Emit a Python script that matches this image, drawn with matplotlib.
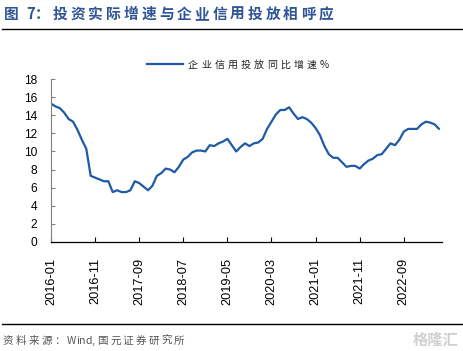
import numpy as np
import matplotlib
matplotlib.use("Agg")
import matplotlib.pyplot as plt
from matplotlib.lines import Line2D

plt.rcParams['font.family'] = ['Noto Sans CJK SC', 'DejaVu Sans']

# 企业信用投放同比增速 (%), 2016-01 .. 2023-05 monthly
valores = [15.3, 15.0, 14.8, 14.3, 13.6, 13.3, 12.4, 11.3, 10.3, 7.3,
           7.1, 6.9, 6.7, 6.7, 5.5, 5.7, 5.5, 5.5, 5.7, 6.7,
           6.5, 6.1, 5.7, 6.2, 7.3, 7.6, 8.1, 8.0, 7.7, 8.3,
           9.1, 9.4, 9.9, 10.1, 10.1, 10.0, 10.7, 10.6, 10.9, 11.1,
           11.4, 10.7, 10.0, 10.5, 10.9, 10.6, 10.9, 11.0, 11.4, 12.5,
           13.3, 14.1, 14.6, 14.6, 14.9, 14.2, 13.6, 13.8, 13.6, 13.2,
           12.6, 11.8, 10.6, 9.7, 9.3, 9.3, 8.8, 8.3, 8.4, 8.4,
           8.1, 8.6, 9.0, 9.2, 9.6, 9.7, 10.3, 10.9, 10.7, 11.3,
           12.2, 12.5, 12.5, 12.5, 13.0, 13.3, 13.2, 13.0, 12.5]
meses = [f"{2016 + i // 12}-{i % 12 + 1:02d}" for i in range(len(valores))]
etiquetas = ["2016-01", "2016-11", "2017-09", "2018-07", "2019-05",
             "2020-03", "2021-01", "2021-11", "2022-09"]
titulo = "图 7：投资实际增速与企业信用投放相呼应"
leyenda = "企业信用投放同比增速%"
fuente = "资料来源：Wind, 国元证券研究所"

W, H = 464, 351
fig = plt.figure(figsize=(W / 100, H / 100), dpi=100)
renderer = fig.canvas.get_renderer()


def texto_espaciado(x, y, s, extra, fontsize, **kw):
    # coloca cada caracter; espacio extra (pixeles) solo tras caracteres CJK
    for c in s:
        if c == " ":
            x += fontsize * 0.4
            continue
        t = fig.text(x / W, 1 - y / H, c, va="center", ha="left", fontsize=fontsize, **kw)
        x += t.get_window_extent(renderer).width
        if ord(c) > 127:
            x += extra


ax = fig.add_axes([51 / W, 1 - 241.7 / H, (441.7 - 51) / W, (241.7 - 79.3) / H])

x = np.arange(len(valores))
ax.plot(x, valores, color="#1F5AA6", lw=1.6, solid_capstyle="round")

ax.set_ylim(0, 18)
ax.set_yticks(range(0, 19, 2))
ax.set_xlim(0, 88.6)
pos = [meses.index(e) for e in etiquetas]
ax.set_xticks(pos)
ax.set_xticklabels(etiquetas, rotation=90, family=["Liberation Sans"], fontsize=9.2)
for t in ax.get_yticklabels():
    t.set_family(["Liberation Sans"])
    t.set_fontsize(8.6)
ax.tick_params(axis="x", direction="in", length=3.5, width=0.8, pad=11.5)
ax.tick_params(axis="y", direction="in", length=3, width=0.8, pad=10, colors="black")
ax.tick_params(axis="y", color="#808080")
ax.spines["top"].set_visible(False)
ax.spines["right"].set_visible(False)
ax.spines["left"].set_color("#808080")
ax.spines["left"].set_linewidth(0.8)
ax.spines["bottom"].set_color("black")
ax.spines["bottom"].set_linewidth(0.9)

# leyenda
fig.add_artist(Line2D([146.7 / W, 183.3 / W], [1 - 63.7 / H] * 2, color="#1F5AA6", lw=1.6))
texto_espaciado(188, 65, leyenda, 3.2, 7.2, color="#222222")

# titulo y lineas
texto_espaciado(4, 14, titulo, 3.0, 10.6, fontweight="bold", color="#2F5597")
fig.add_artist(Line2D([2 / W, 462 / W], [1 - 29 / H] * 2, color="black", lw=1.0))
fig.add_artist(Line2D([2 / W, 462 / W], [1 - 323.5 / H] * 2, color="black", lw=1.0))
texto_espaciado(3, 341, fuente, 2.2, 7.6, color="#555555")
fig.text(458 / W, 1 - 340 / H, "格隆汇", fontsize=11, color="#d0d0d0",
         va="center", ha="right", fontweight="bold")

fig.savefig("out.png", dpi=100)
